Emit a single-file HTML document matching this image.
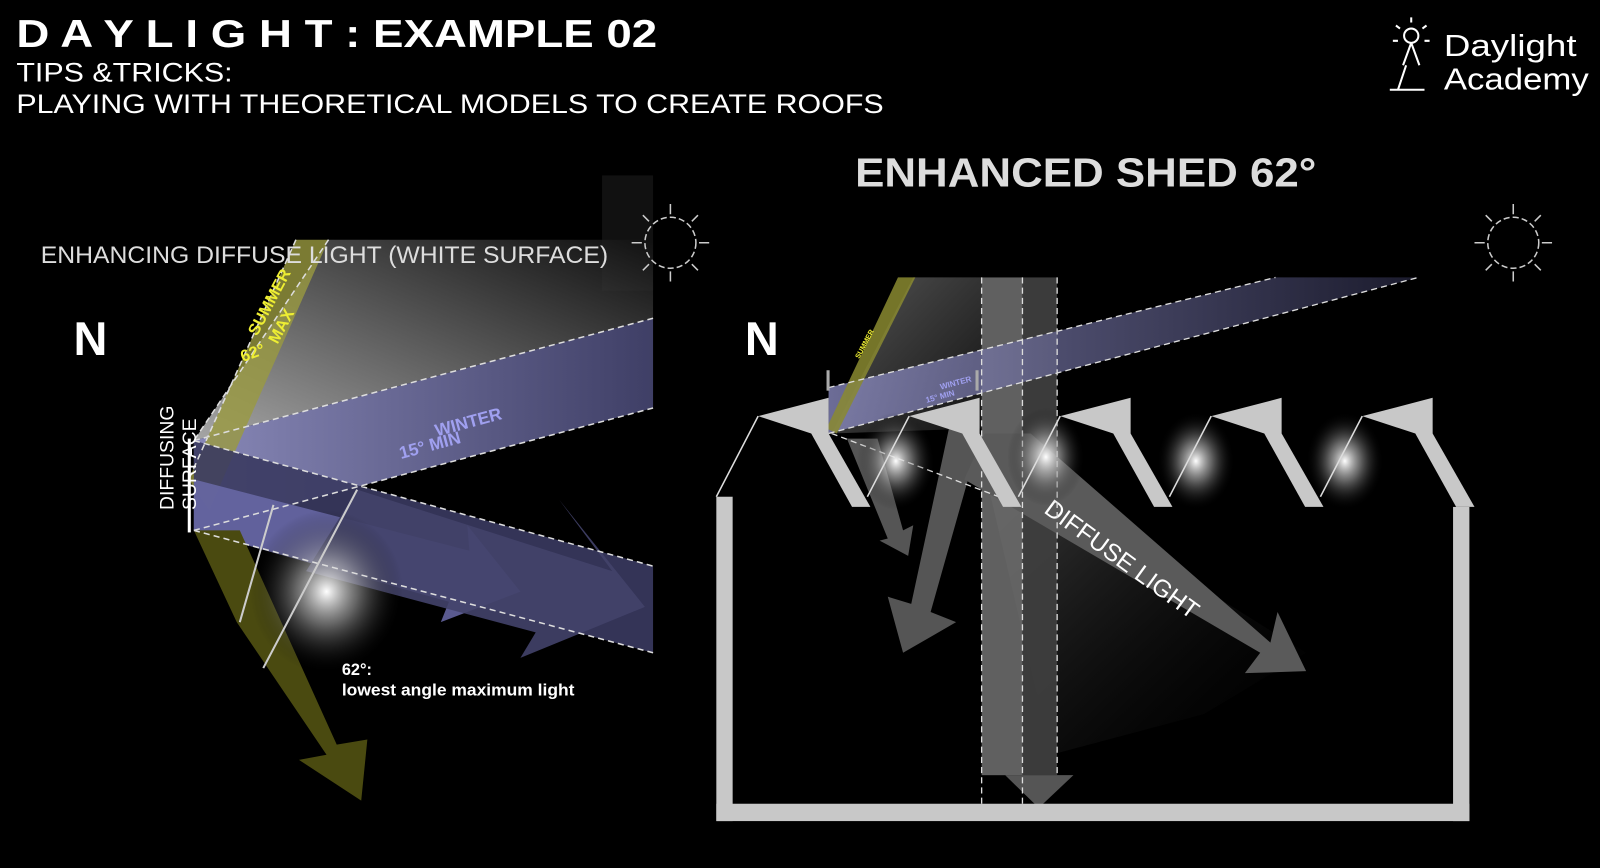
<!DOCTYPE html>
<html><head><meta charset="utf-8"><style>
html,body{margin:0;padding:0;background:#000;width:1600px;height:868px;overflow:hidden}
svg{display:block}
</style></head><body>
<svg width="1600" height="868" viewBox="0 0 1568 851" preserveAspectRatio="none" font-family="Liberation Sans, sans-serif">
<defs>
<linearGradient id="gg" x1="0" y1="1" x2="1" y2="0"><stop offset="0" stop-color="#cfcfcf"/><stop offset="1" stop-color="#111"/></linearGradient>
<linearGradient id="gv" x1="0" y1="0" x2="1" y2="1"><stop offset="0" stop-color="#555"/><stop offset="1" stop-color="#111"/></linearGradient>
<linearGradient id="pw" x1="0" y1="0" x2="1" y2="0"><stop offset="0" stop-color="#a0a0d8"/><stop offset="1" stop-color="#4a4a78"/></linearGradient>
<linearGradient id="pw2" x1="0" y1="0" x2="1" y2="0"><stop offset="0" stop-color="#9090c8"/><stop offset="1" stop-color="#24243c"/></linearGradient>
<radialGradient id="glow"><stop offset="0" stop-color="#fff"/><stop offset="0.4" stop-color="#aaa" stop-opacity="0.6"/><stop offset="1" stop-color="#000" stop-opacity="0"/></radialGradient>
<linearGradient id="cone" x1="0" y1="0" x2="1" y2="1"><stop offset="0" stop-color="#666"/><stop offset="1" stop-color="#000" stop-opacity="0"/></linearGradient>
</defs>

<text x="16" y="46" fill="#fff" font-size="38" font-weight="bold" textLength="628" lengthAdjust="spacingAndGlyphs">D A Y L I G H T : EXAMPLE 02</text>
<text x="16" y="80" fill="#fff" font-size="26" textLength="212" lengthAdjust="spacingAndGlyphs">TIPS &amp;TRICKS:</text>
<text x="16" y="111" fill="#fff" font-size="26" textLength="850" lengthAdjust="spacingAndGlyphs">PLAYING WITH THEORETICAL MODELS TO CREATE ROOFS</text>

<g stroke="#fff" stroke-width="2" fill="none">
<circle cx="1383" cy="35" r="7"/>
<path d="M1383 22v-5M1372 28l-4-3M1394 28l4-3M1370 40h-5M1396 40h5M1383 42l-8 22M1383 42l8 22M1370 88l8-24M1362 88h34"/>
</g>
<text x="1415" y="55" fill="#fff" font-size="30" textLength="130" lengthAdjust="spacingAndGlyphs">Daylight</text>
<text x="1415" y="88" fill="#fff" font-size="30" textLength="142" lengthAdjust="spacingAndGlyphs">Academy</text>

<rect x="590" y="172" width="50" height="113" fill="#111"/>
<polygon points="322,235 640,235 640,312 190,432" fill="url(#gg)" opacity="0.8"/>
<polygon points="190,432 640,312 640,400 190,520" fill="url(#pw)" opacity="0.85"/>
<polygon points="290,235 322,235 205,500 185,470" fill="#9a9a40" opacity="0.8"/>
<polygon points="190,432 640,555 640,640 190,520" fill="#3a3a60" opacity="0.9"/>
<polygon points="190,470 460,540 458,515 510,580 432,610 440,590 190,520" fill="#6a6aa8" opacity="0.85"/>
<polygon points="350,480 600,560 548,490 632,595 510,645 525,620 300,560" fill="#43436a" opacity="0.9"/>
<polygon points="190,520 235,520 330,730 360,725 354,785 293,745 320,740 232,610" fill="#4a4a10"/>
<ellipse cx="320" cy="580" rx="75" ry="80" fill="url(#glow)"/>
<g stroke="#ddd" stroke-width="1.5" fill="none" stroke-dasharray="6,4">
<path d="M190,432 640,312M190,520 640,400M322,235 190,432M290,235 185,470M190,432 640,555M190,520 640,640"/>
</g>
<path d="M268,495 235,610M350,480 258,655" stroke="#ccc" stroke-width="2"/>
<rect x="184" y="430" width="3" height="92" fill="#fff"/>
<text transform="translate(170,500) rotate(-90)" fill="#fff" font-size="19">DIFFUSING</text>
<text transform="translate(192,500) rotate(-90)" fill="#fff" font-size="19">SURFACE</text>
<text x="40" y="258" fill="#ddd" font-size="24" textLength="556" lengthAdjust="spacingAndGlyphs">ENHANCING DIFFUSE LIGHT (WHITE SURFACE)</text>
<text transform="translate(252,330) rotate(-62)" fill="#ee3" font-size="16" font-weight="bold">SUMMER</text>
<text transform="translate(272,338) rotate(-62)" fill="#ee3" font-size="16" font-weight="bold">MAX</text>
<text x="238" y="355" fill="#ee3" font-size="16" font-weight="bold" transform="rotate(-20,238,355)">62°</text>
<text transform="translate(428,428) rotate(-15)" fill="#a0a0f0" font-size="17" font-weight="bold">WINTER</text>
<text transform="translate(393,450) rotate(-15)" fill="#a0a0f0" font-size="17" font-weight="bold">15°   MIN</text>
<text x="72" y="348" fill="#fff" font-size="46" font-weight="bold">N</text>
<text x="335" y="662" fill="#fff" font-size="16" font-weight="bold">62°:</text>
<text x="335" y="682" fill="#fff" font-size="16" font-weight="bold" textLength="228" lengthAdjust="spacingAndGlyphs">lowest angle maximum light</text>

<g stroke="#ccc" stroke-width="1.5" fill="none">
<circle cx="657" cy="238" r="25" stroke-dasharray="6,3"/>
<path d="M657,200v10M657,266v10M619,238h10M685,238h10M630,211l6,6M678,259l6,6M684,211l-6,6M636,259l-6,6"/>
<circle cx="1483" cy="238" r="25" stroke-dasharray="6,3"/>
<path d="M1483,200v10M1483,266v10M1445,238h10M1511,238h10M1456,211l6,6M1504,259l6,6M1510,211l-6,6M1462,259l-6,6"/>
</g>

<text x="838" y="183" fill="#ddd" font-size="40" font-weight="bold" textLength="452" lengthAdjust="spacingAndGlyphs">ENHANCED SHED 62°</text>
<text x="730" y="348" fill="#fff" font-size="46" font-weight="bold">N</text>
<polygon points="960,440 1280,640 1180,700 1030,740" fill="url(#cone)" opacity="0.7"/>
<polygon points="895,272 962,272 962,420 815,425" fill="url(#gv)"/>
<rect x="962" y="272" width="40" height="488" fill="#6a6a6a" opacity="0.9"/>
<rect x="1002" y="272" width="34" height="488" fill="#3e3e3e" opacity="0.95"/>
<polygon points="985,760 1052,760 1018,792" fill="#555"/>
<polygon points="812,380 1250,272 1390,272 812,425" fill="url(#pw2)" opacity="0.75"/>
<polygon points="880,272 897,272 820,425 810,420" fill="#8a8a30" opacity="0.85"/>
<polygon points="830,430 860,430 885,520 895,515 890,545 862,530 870,528" fill="#555"/>
<polygon points="930,420 960,430 912,600 937,610 885,640 870,585 893,592" fill="#555"/>
<polygon points="965,425 1010,425 1245,630 1252,600 1280,658 1220,660 1235,640 945,470" fill="#5a5a5a"/>
<text transform="translate(1022,502) rotate(36)" fill="#fff" font-size="24">DIFFUSE LIGHT</text>
<g stroke="#ddd" stroke-width="1.3" fill="none" stroke-dasharray="6,4">
<path d="M962,272v520M1002,272v520M1036,272v490M812,380 1250,272M812,425 1390,272M815,425 1000,495"/>
</g>
<g fill="#c8c8c8">
<rect x="702" y="487" width="16" height="318"/>
<rect x="702" y="788" width="738" height="17"/>
<rect x="1424" y="497" width="16" height="308"/>
</g>
<ellipse cx="878" cy="452" rx="38" ry="48" fill="url(#glow)"/>
<ellipse cx="1025" cy="448" rx="38" ry="48" fill="url(#glow)"/>
<ellipse cx="1172" cy="452" rx="38" ry="48" fill="url(#glow)"/>
<ellipse cx="1318" cy="452" rx="38" ry="48" fill="url(#glow)"/>
<g id="m0">
<polygon points="743,408 812,390 812,425 795,425" fill="#c8c8c8"/>
<polygon points="795,425 812,425 853,497 835,497" fill="#c8c8c8"/>
<path d="M743,408 702,487" stroke="#ddd" stroke-width="1.5"/>
</g>
<use href="#m0" x="148"/>
<use href="#m0" x="296"/>
<use href="#m0" x="444"/>
<use href="#m0" x="592"/>
<rect x="810" y="363" width="3" height="20" fill="#aaa"/>
<rect x="956" y="363" width="3" height="20" fill="#aaa"/>
<text transform="translate(842,352) rotate(-62)" fill="#ee3" font-size="7" font-weight="bold">SUMMER</text>
<text transform="translate(922,382) rotate(-15)" fill="#a0a0f0" font-size="8" font-weight="bold">WINTER</text>
<text transform="translate(908,395) rotate(-15)" fill="#a0a0f0" font-size="8" font-weight="bold">15°  MIN</text>
</svg>
</body></html>
